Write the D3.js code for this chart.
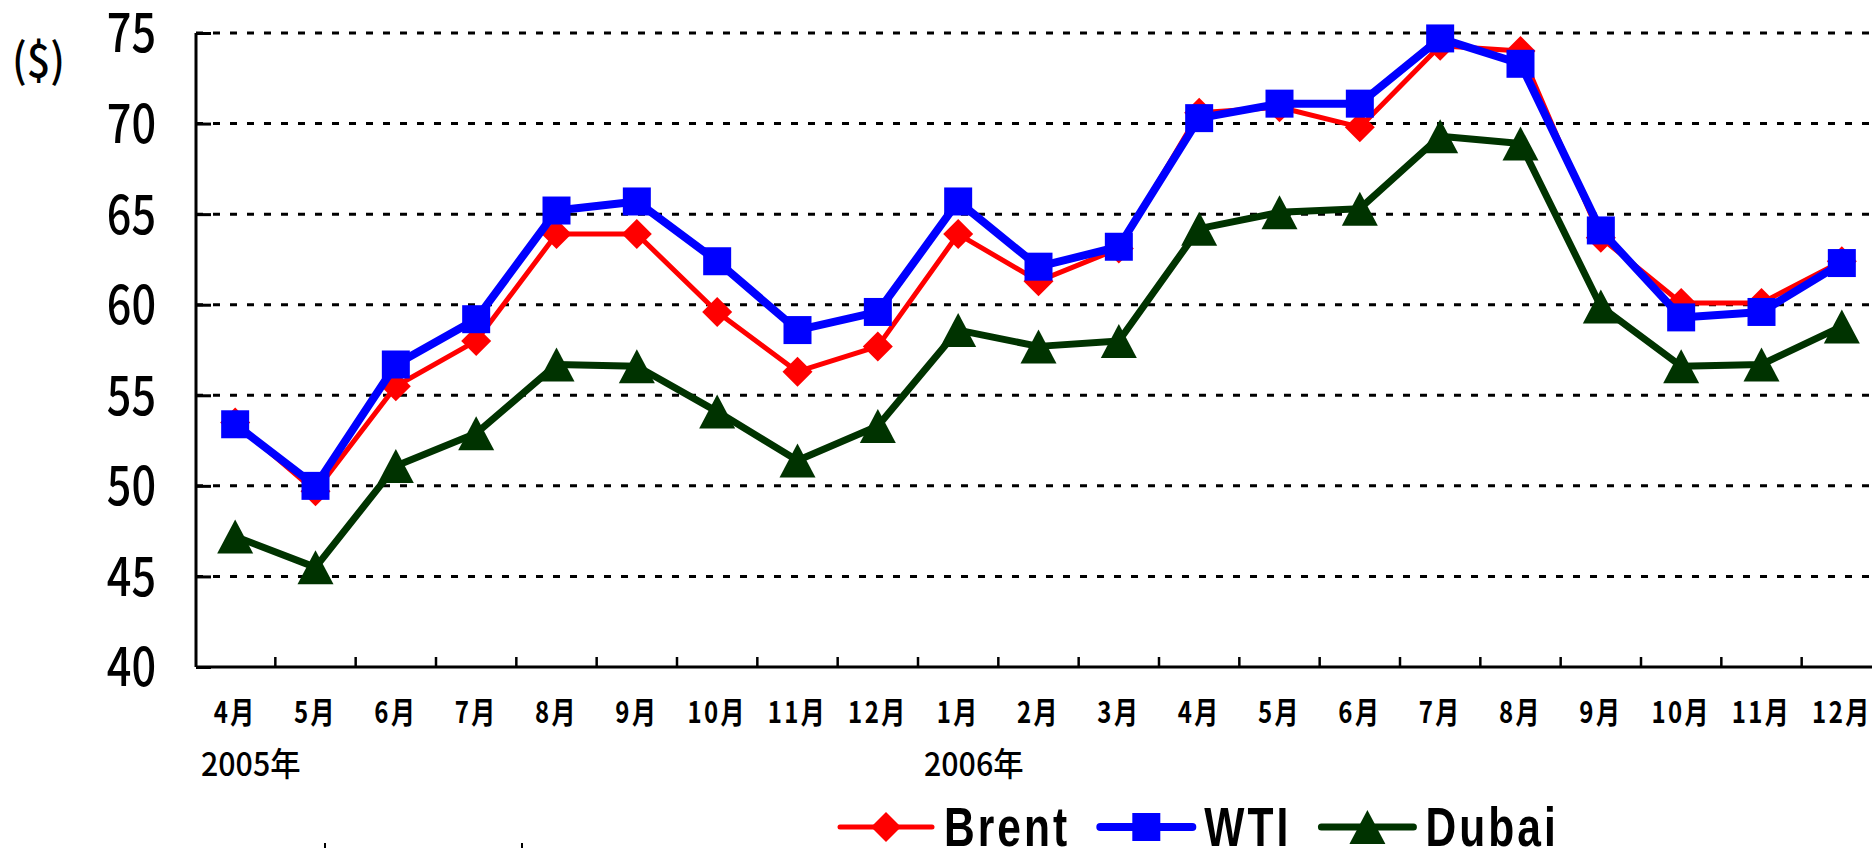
<!DOCTYPE html>
<html>
<head>
<meta charset="utf-8">
<script src="https://cdn.jsdelivr.net/npm/d3@7/dist/d3.min.js"></script>
<style>
	html, body { margin: 0; padding: 0; background: #fff; overflow: hidden; }
	svg { display: block; }
</style>
</head>
<body>
<div id="chart"></div>
<script>
// monthly crude prices, Apr 2005 - Dec 2006 ($/bbl)
var months = ["4月", "5月", "6月", "7月", "8月", "9月", "10月", "11月", "12月",
	"1月", "2月", "3月", "4月", "5月", "6月", "7月", "8月", "9月", "10月", "11月", "12月"];
var yearLabels = ["2005年", "2006年"];
var yearStartIndex = [0, 9];

var brent = [53.5, 49.7, 55.5, 58.0, 63.9, 63.9, 59.6, 56.3, 57.7, 63.9, 61.3, 63.1, 70.6, 70.9, 69.8, 74.3, 74.0, 63.7, 60.1, 60.1, 62.4];
var wti   = [53.4, 50.0, 56.7, 59.2, 65.2, 65.7, 62.4, 58.6, 59.6, 65.7, 62.1, 63.2, 70.3, 71.1, 71.1, 74.7, 73.3, 64.1, 59.3, 59.6, 62.3];
var dubai = [47.2, 45.5, 51.1, 52.9, 56.7, 56.6, 54.1, 51.4, 53.3, 58.6, 57.7, 58.0, 64.2, 65.1, 65.3, 69.3, 68.9, 59.9, 56.6, 56.7, 58.8];

var seriesNames = ["Brent", "WTI", "Dubai"];
var yTicks = [40, 45, 50, 55, 60, 65, 70, 75];

function drawChart() {
	var width = 1872,
		height = 848;
	var jpFont = "'Noto Sans CJK JP', sans-serif";

	var series = [
		{ name: seriesNames[0], values: brent, color: "#ff0000", lw: 5, marker: "diamond" },
		{ name: seriesNames[1], values: wti, color: "#0000ff", lw: 8, marker: "square" },
		{ name: seriesNames[2], values: dubai, color: "#003300", lw: 7, marker: "triangle" }
	];

	var svg = d3.select("#chart").append("svg")
		.attr("width", width)
		.attr("height", height);

	// category index -> band, plot area runs past the right edge like the source
	var x = d3.scaleBand()
		.domain(d3.range(months.length))
		.range([195, 1882])
		.padding(0);

	var y = d3.scaleLinear()
		.domain([40, 75])
		.range([667, 33]);

	var cx = function(i) { return x(i) + x.bandwidth() / 2; };

	// dashed gridlines
	svg.selectAll("line.grid")
		.data(yTicks.filter(function(d) { return d > 40; }))
		.enter()
			.append("line")
			.attr("class", "grid")
			.attr("x1", 196)
			.attr("x2", width)
			.attr("y1", function(d) { return y(d); })
			.attr("y2", function(d) { return y(d); })
			.style("stroke", "#000")
			.style("stroke-width", 3)
			.style("stroke-dasharray", "7,10");

	// y axis, ticks pointing into the plot
	var yAxis = svg.append("g")
		.attr("transform", "translate(196,0)")
		.call(d3.axisLeft(y).tickValues(yTicks).tickSize(-15).tickFormat(""));
	yAxis.select(".domain").style("stroke-width", 3).attr("d", "M0," + y(75) + "V" + y(40));
	yAxis.selectAll(".tick line").style("stroke-width", 3);

	svg.selectAll("text.ylab")
		.data(yTicks)
		.enter()
			.append("text")
			.attr("class", "ylab")
			.attr("transform", function(d) { return "translate(156," + y(d) + ") scale(0.8,1)"; })
			.attr("text-anchor", "end")
			.attr("dy", "0.36em")
			.style("font-family", jpFont)
			.style("font-weight", 500)
			.style("font-size", "54px")
			.text(function(d) { return d; });

	svg.append("text")
		.attr("transform", "translate(12,77) scale(0.9,1)")
		.style("font-family", jpFont)
		.style("font-weight", 500)
		.style("font-size", "46px")
		.text("($)");

	// x axis line and between-category ticks
	svg.append("line")
		.attr("x1", 196).attr("x2", width)
		.attr("y1", y(40)).attr("y2", y(40))
		.style("stroke", "#000")
		.style("stroke-width", 3);

	svg.selectAll("line.xtick")
		.data(d3.range(1, months.length + 1))
		.enter()
			.append("line")
			.attr("class", "xtick")
			.attr("x1", function(i) { return 195 + i * x.bandwidth(); })
			.attr("x2", function(i) { return 195 + i * x.bandwidth(); })
			.attr("y1", y(40))
			.attr("y2", y(40) - 10)
			.style("stroke", "#000")
			.style("stroke-width", 2.5);

	svg.selectAll("text.xlab")
		.data(months)
		.enter()
			.append("text")
			.attr("class", "xlab")
			.attr("transform", function(d, i) { return "translate(" + cx(i) + ",723) scale(0.8,1)"; })
			.attr("text-anchor", "middle")
			.style("font-family", jpFont)
			.style("font-weight", "bold")
			.style("font-size", "30px")
			.style("letter-spacing", "3px")
			.text(function(d) { return d; });

	svg.selectAll("text.year")
		.data(yearLabels)
		.enter()
			.append("text")
			.attr("class", "year")
			.attr("transform", function(d, i) { return "translate(" + (x(yearStartIndex[i]) + 6) + ",776) scale(0.92,1)"; })
			.style("font-family", jpFont)
			.style("font-weight", 500)
			.style("font-size", "33px")
			.text(function(d) { return d; });

	// stray marks at the bottom edge of the source image
	svg.selectAll("line.stray")
		.data([325, 522])
		.enter()
			.append("line")
			.attr("x1", function(d) { return d; })
			.attr("x2", function(d) { return d; })
			.attr("y1", 843).attr("y2", 848)
			.style("stroke", "#000")
			.style("stroke-width", 2);

	function markerPath(type) {
		if (type == "diamond") return "M0,-15L15,0L0,15L-15,0Z";
		if (type == "square") return "M-14,-14H14V14H-14Z";
		return "M0,-17L18,17H-18Z";
	}

	var line = d3.line()
		.x(function(d, i) { return cx(i); })
		.y(function(d) { return y(d); });

	series.forEach(function(s) {
		svg.append("path")
			.datum(s.values)
			.attr("d", line)
			.style("fill", "none")
			.style("stroke", s.color)
			.style("stroke-width", s.lw)
			.style("stroke-linejoin", "round");

		svg.selectAll("path.m-" + s.marker)
			.data(s.values)
			.enter()
				.append("path")
				.attr("class", "m-" + s.marker)
				.attr("transform", function(d, i) { return "translate(" + cx(i) + "," + y(d) + ")"; })
				.attr("d", markerPath(s.marker))
				.style("fill", s.color);
	});

	// legend along the bottom
	var lx = 840, ly = 827;
	series.forEach(function(s) {
		var g = svg.append("g").attr("transform", "translate(" + lx + "," + ly + ")");
		g.append("line")
			.attr("x1", 0).attr("x2", 92)
			.style("stroke", s.color)
			.style("stroke-width", s.lw)
			.style("stroke-linecap", "round");
		g.append("path")
			.attr("transform", "translate(46,0)")
			.attr("d", markerPath(s.marker))
			.style("fill", s.color);
		var t = g.append("text")
			.attr("transform", "translate(104,19) scale(0.76,1)")
			.style("font-family", "'Liberation Sans', Arial, sans-serif")
			.style("font-weight", "bold")
			.style("font-size", "56px")
			.style("letter-spacing", "4px")
			.text(s.name);
		lx += 104 + t.node().getComputedTextLength() * 0.76 + 30;
	});
}

drawChart();
</script>
</body>
</html>
